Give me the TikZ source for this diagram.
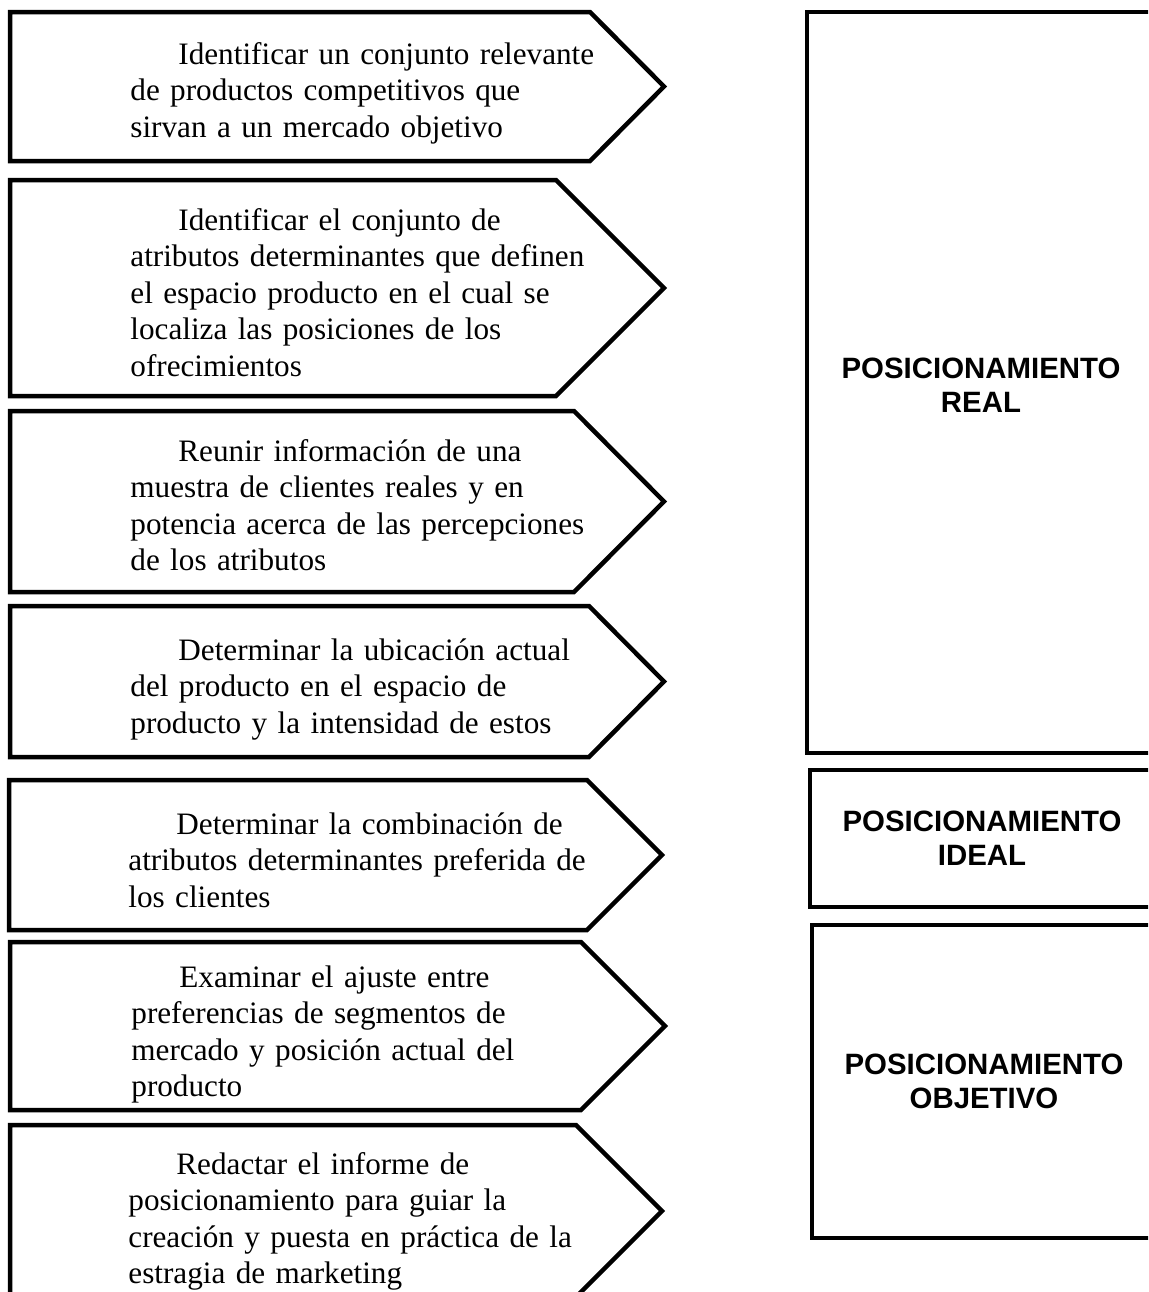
\documentclass[tikz,border=0pt]{standalone}
\usepackage{fontspec}
\setmainfont{Liberation Serif}
\setsansfont{Liberation Sans}
\usepackage{tikz}

\tikzset{
  paso/.style={draw=black, line width=2.25pt, line join=miter},
  texto/.style={inner sep=0pt, text width=240pt, align=left,
    font=\fontsize{15.6pt}{18.25pt}\selectfont},
  etapa/.style={inner sep=0pt, align=center,
    font=\fontsize{14.7pt}{17pt}\selectfont\sffamily\bfseries}
}

\begin{document}
\begin{tikzpicture}[x=0.5pt, y=-0.5pt]
    \useasboundingbox (0,0) rectangle (1148,1292);
    \clip (0,0) rectangle (1148,1292);

    % pasos (flechas de la izquierda)
    \draw[paso] (10,12) -- (590,12) -- (664,86.5) -- (590,161) -- (10,161) -- cycle;
    \draw[paso] (10,180) -- (556,180) -- (664,288) -- (556,396) -- (10,396) -- cycle;
    \draw[paso] (10,411) -- (574,411) -- (664,501.5) -- (574,592) -- (10,592) -- cycle;
    \draw[paso] (10,606) -- (589,606) -- (664,681.5) -- (589,757) -- (10,757) -- cycle;
    \draw[paso] (9,780) -- (587,780) -- (662,855) -- (587,930) -- (9,930) -- cycle;
    \draw[paso] (10,942) -- (581,942) -- (665,1026) -- (581,1110) -- (10,1110) -- cycle;
    \draw[paso] (10,1125) -- (576,1125) -- (662,1211) -- (576,1297) -- (10,1297) -- cycle;

    % textos de los pasos
    \node[texto, anchor=base west] (p1) at (130,64)
      {\hspace*{24pt}Identificar un conjunto relevante\\ de productos competitivos que\\ sirvan a un mercado objetivo};
    \node[texto, anchor=base west] (p2) at (130,230)
      {\hspace*{24pt}Identificar el conjunto de\\ atributos determinantes que definen\\ el espacio producto en el cual se\\ localiza las posiciones de los\\ ofrecimientos};
    \node[texto, anchor=base west] (p3) at (130,461)
      {\hspace*{24pt}Reunir información de una\\ muestra de clientes reales y en\\ potencia acerca de las percepciones\\ de los atributos};
    \node[texto, anchor=base west] (p4) at (130,660)
      {\hspace*{24pt}Determinar la ubicación actual\\ del producto en el espacio de\\ producto y la intensidad de estos};
    \node[texto, anchor=base west] (p5) at (128,834)
      {\hspace*{24pt}Determinar la combinación de\\ atributos determinantes preferida de\\ los clientes};
    \node[texto, anchor=base west] (p6) at (131,987)
      {\hspace*{24pt}Examinar el ajuste entre\\ preferencias de segmentos de\\ mercado y posición actual del\\ producto};
    \node[texto, anchor=base west] (p7) at (128,1174)
      {\hspace*{24pt}Redactar el informe de\\ posicionamiento para guiar la\\ creación y puesta en práctica de la\\ estragia de marketing};

    % etapas (cajas de la derecha)
    \draw[paso] (1160,12) -- (807,12) -- (807,753) -- (1160,753);
    \draw[paso] (1160,770) -- (810,770) -- (810,907) -- (1160,907);
    \draw[paso] (1160,925) -- (812,925) -- (812,1238) -- (1160,1238);

    % (base = ultima linea)
    \node[etapa, anchor=base] (real) at (981,412) {POSICIONAMIENTO\\ REAL};
    \node[etapa, anchor=base] (ideal) at (982,865) {POSICIONAMIENTO\\ IDEAL};
    \node[etapa, anchor=base] (objetivo) at (984,1108) {POSICIONAMIENTO\\ OBJETIVO};
\end{tikzpicture}
\end{document}
